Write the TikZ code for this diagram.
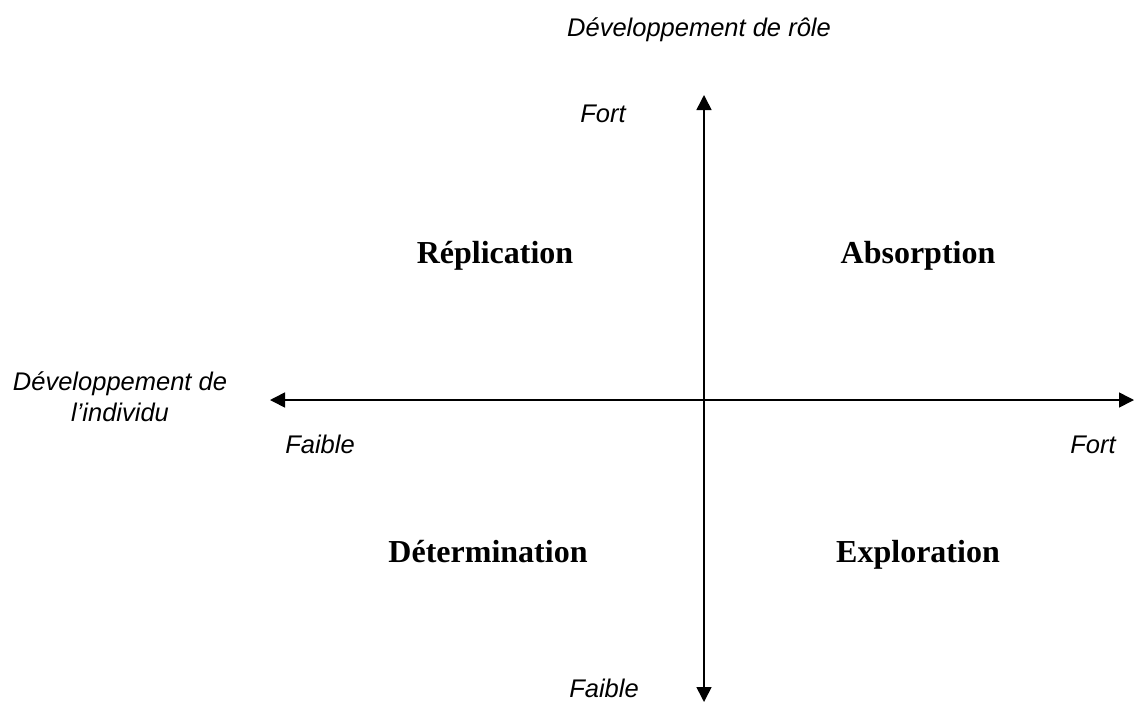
\documentclass[tikz,border=0pt]{standalone}
\usepackage{fontspec}
\setmainfont{Liberation Serif}
\setsansfont{Liberation Sans}
\usetikzlibrary{arrows.meta}

\begin{document}
\begin{tikzpicture}[x=1pt, y=-1pt,
    axe/.style = {line width=1.6pt, {Triangle[length=15pt,width=15pt]}-{Triangle[length=15pt,width=15pt]}},
    label/.style = {font=\sffamily\itshape\fontsize{25.5}{31}\selectfont, inner sep=0pt},
    quadrant/.style = {font=\bfseries\fontsize{32}{38}\selectfont, inner sep=0pt, anchor=base}]
    \useasboundingbox (0,0) rectangle (1134,702);

    % axes
    \coordinate (N) at (704,95);
    \coordinate (S) at (704,702);
    \coordinate (W) at (270,400);
    \coordinate (E) at (1134,400);
    \draw [axe] (N) -- (S);
    \draw [axe] (W) -- (E);

    % axis titles and ends
    \node (roleT) [label] at (699,30) {Développement de rôle};
    \node (indT) [label, align=center] at (120,397) {Développement de\\l’individu};
    \node (nFort) [label, anchor=base] at (603,122) {Fort};
    \node (sFaible) [label, anchor=base] at (604,697) {Faible};
    \node (wFaible) [label, anchor=base] at (320,453) {Faible};
    \node (eFort) [label, anchor=base] at (1093,453) {Fort};

    % quadrants
    \node (repl) [quadrant] at (495,263) {Réplication};
    \node (abso) [quadrant] at (918,263) {Absorption};
    \node (dete) [quadrant] at (488,562) {Détermination};
    \node (expl) [quadrant] at (918,562) {Exploration};
\end{tikzpicture}
\end{document}
